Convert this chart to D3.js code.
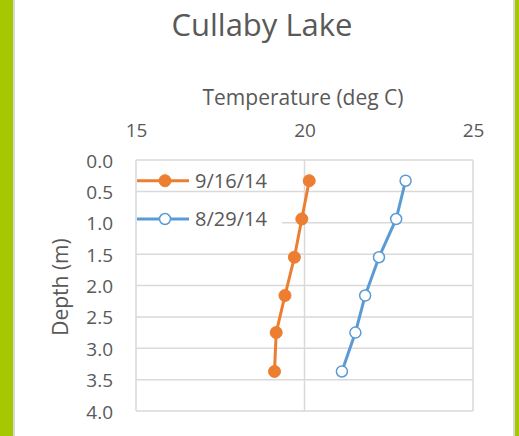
<!DOCTYPE html>
<html>
<head>
<meta charset="utf-8">
<script src="https://cdn.jsdelivr.net/npm/d3@7"></script>
<style>
  body { margin: 0; background: #fff; }
  svg text { font-family: "Open Sans", "Noto Sans", sans-serif; fill: #595959; }
</style>
</head>
<body>
<div id="chart"></div>
<script>
// depth profiles, Cullaby Lake
var depths = [0.33, 0.94, 1.55, 2.16, 2.75, 3.37];
var tempSep16 = [20.14, 19.92, 19.70, 19.42, 19.16, 19.11];
var tempAug29 = [23.00, 22.72, 22.21, 21.80, 21.51, 21.11];
var xTicks = [15, 20, 25];
var yTicks = [0, 0.5, 1, 1.5, 2, 2.5, 3, 3.5, 4];
var seriesNames = ["9/16/14", "8/29/14"];

var W = 519, H = 436;
var svg = d3.select("#chart").append("svg").attr("width", W).attr("height", H);

// frame
svg.append("rect").attr("x", 0).attr("y", 0).attr("width", W).attr("height", H).attr("fill", "#a6c800");
svg.append("rect").attr("x", 13).attr("y", 0).attr("width", 502).attr("height", H).attr("fill", "#d9d9d9");
svg.append("rect").attr("x", 15).attr("y", 0).attr("width", 498).attr("height", H).attr("fill", "#fff");

var x = d3.scaleLinear().domain([15, 25]).range([136, 473]);
var y = d3.scaleLinear().domain([0, 4]).range([160, 411]);

// grid
var grid = svg.append("g");
grid.selectAll(".h").data(yTicks).enter().append("line")
  .attr("x1", x(15)).attr("x2", x(25))
  .attr("y1", function(d){ return y(d); }).attr("y2", function(d){ return y(d); })
  .attr("stroke", "#d9d9d9").attr("stroke-width", 1.5);
grid.selectAll(".v").data(xTicks).enter().append("line")
  .attr("x1", function(d){ return x(d); }).attr("x2", function(d){ return x(d); })
  .attr("y1", y(0)).attr("y2", y(4))
  .attr("stroke", "#d9d9d9").attr("stroke-width", 1.5);

// axes (top x, left y), text only
var xAxis = svg.append("g").attr("transform", "translate(0,140)")
  .call(d3.axisTop(x).tickValues(xTicks).tickSize(0).tickFormat(d3.format("d")));
xAxis.select(".domain").remove();
xAxis.selectAll("text").style("font-size", "19px").attr("fill", "#595959");

var yAxis = svg.append("g").attr("transform", "translate(" + (x(15) - 20) + ",1)")
  .call(d3.axisLeft(y).tickValues(yTicks).tickSize(0).tickFormat(d3.format(".1f")));
yAxis.select(".domain").remove();
yAxis.selectAll("text").style("font-size", "19px").attr("fill", "#595959");

// titles
svg.append("text").attr("x", 262).attr("y", 36).attr("text-anchor", "middle")
  .style("font-size", "31px").text("Cullaby Lake");
svg.append("text").attr("x", 303).attr("y", 105).attr("text-anchor", "middle")
  .style("font-size", "21px").text("Temperature  (deg C)");
svg.append("text").attr("transform", "translate(68,287) rotate(-90)").attr("text-anchor", "middle")
  .style("font-size", "21px").text("Depth (m)");

var line = d3.line().x(function(d){ return x(d[0]); }).y(function(d){ return y(d[1]); });

function drawSeries(temps, color, filled) {
  var pts = temps.map(function(t, i){ return [t, depths[i]]; });
  var g = svg.append("g");
  g.append("path").datum(pts).attr("d", line)
    .attr("fill", "none").attr("stroke", color).attr("stroke-width", 3);
  g.selectAll("circle").data(pts).enter().append("circle")
    .attr("cx", function(d){ return x(d[0]); })
    .attr("cy", function(d){ return y(d[1]); })
    .attr("r", filled ? 6 : 5.5)
    .attr("fill", filled ? color : "#fff")
    .attr("stroke", color).attr("stroke-width", filled ? 1 : 1.5);
}
drawSeries(tempSep16, "#ed7d31", true);
drawSeries(tempAug29, "#5b9bd5", false);

// legend
var legend = svg.append("g");
var legendRows = [
  { name: seriesNames[0], color: "#ed7d31", filled: true, yv: y(depths[0]) },
  { name: seriesNames[1], color: "#5b9bd5", filled: false, yv: y(depths[1]) }
];
legendRows.forEach(function(r) {
  legend.append("rect").attr("x", 137).attr("y", r.yv - 9).attr("width", 145).attr("height", 18).attr("fill", "#fff");
  legend.append("line").attr("x1", 137).attr("x2", 189).attr("y1", r.yv).attr("y2", r.yv)
    .attr("stroke", r.color).attr("stroke-width", 3);
  legend.append("circle").attr("cx", 165).attr("cy", r.yv).attr("r", r.filled ? 6 : 5.5)
    .attr("fill", r.filled ? r.color : "#fff").attr("stroke", r.color).attr("stroke-width", r.filled ? 1 : 1.5);
  legend.append("text").attr("x", 195).attr("y", r.yv).attr("dy", "0.35em")
    .style("font-size", "20px").text(r.name);
});
</script>
</body>
</html>
